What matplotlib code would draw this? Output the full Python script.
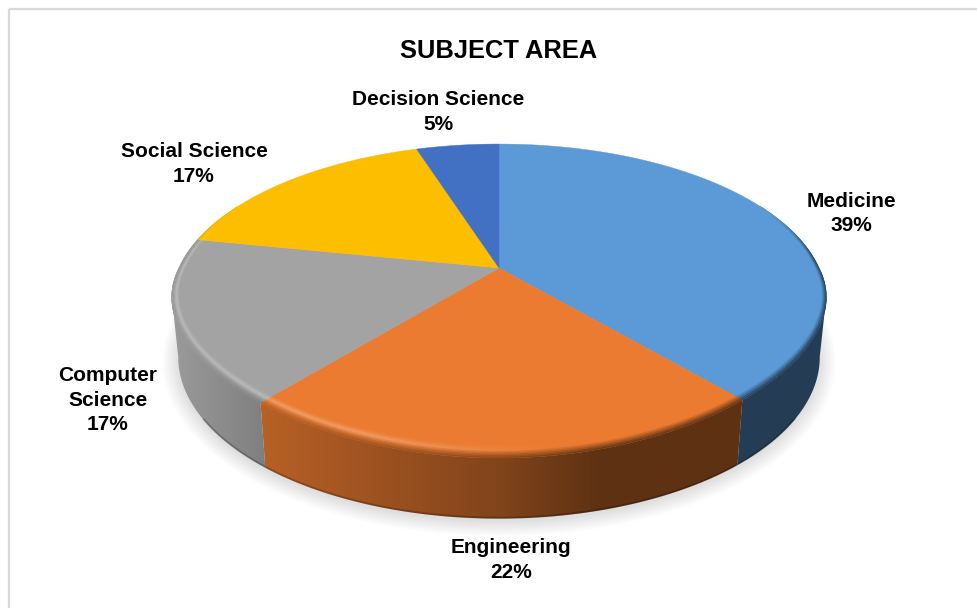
import numpy as np
import matplotlib
matplotlib.use("Agg")
import matplotlib.pyplot as plt
from matplotlib.collections import PolyCollection
from matplotlib.patches import Polygon, Rectangle

plt.rcParams['font.family'] = ['Liberation Sans', 'DejaVu Sans']

title = "SUBJECT AREA"
categories = ["Medicine", "Engineering", "Computer\nScience", "Social Science", "Decision Science"]
values = [39, 21.7, 17.45, 16.85, 5]
colors = ["#5B9AD6", "#EB7B30", "#A3A3A3", "#FDBE00", "#4270C3"]
label_pos = [(851, 213.5), (511, 560), (108, 400), (194, 164), (438, 112)]

CX, CY = 499.0, 268.0
K, A, B, C = -0.21, 150.0, 320.0, -19.0
DEPTH, SX, SY = 55.0, 0.98, 1.03


def top(r, th):
    u, v = r * np.sin(th), -r * np.cos(th)
    w = 1 + K * v
    vr = -np.cos(th)
    return CX + B * u / w, CY + A * v / w + C * r * np.maximum(vr, 0) * (1 - vr ** 2)


def bottom(th):
    u, v = np.sin(th), -np.cos(th)
    w = 1 + K * v
    return CX + SX * B * u / w, CY + DEPTH + SY * A * v / w


def side_factor(x):
    return np.interp(x, [172, 265, 500, 600, 830], [0.95, 0.78, 0.55, 0.40, 0.40])


def rgb(h):
    return np.array(matplotlib.colors.to_rgb(h))


fig = plt.figure(figsize=(9.77, 6.08), dpi=100, facecolor="white")
ax = fig.add_axes([0, 0, 1, 1])
ax.axis("off")

ax.add_patch(Rectangle((8.5, 8.5), 1100, 800, fill=False, ec="#D9D9D9", lw=1.6, zorder=1))

# soft shadow under the pie
full = np.linspace(0, 2 * np.pi, 361)
bx, by = bottom(full)
for grow in np.linspace(15, 0, 16):
    sx = CX + (bx - CX) * (1 + grow / 300)
    sy = CY + DEPTH + 3 + (by - CY - DEPTH) * (1 + grow / 200)
    ax.fill(sx, sy, color="black", alpha=0.008, lw=0, zorder=2)

edges = np.cumsum([0] + values) / sum(values) * 2 * np.pi
xgrid = np.arange(977) + 0.5
fgrid = side_factor(xgrid)[None, :, None]

# side walls (left / right silhouette limits where the rim turns away)
LIM_R, LIM_L = np.deg2rad(102), np.deg2rad(258)
for i, col in enumerate(colors):
    t0, t1 = max(edges[i], LIM_R), min(edges[i + 1], LIM_L)
    if t0 >= t1:
        continue
    th = np.linspace(t0, t1, 150)
    tx, ty = top(1.0, th)
    dx, dy = bottom(th)
    poly = Polygon(np.r_[np.c_[tx, ty], np.c_[dx, dy][::-1]], closed=True, fc="none", ec="none",
                   transform=ax.transData)
    ax.add_patch(poly)
    img = np.clip(rgb(col)[None, None, :] * fgrid, 0, 1)
    im = ax.imshow(img, extent=(0, 977, 608, 0), aspect="auto", zorder=3, interpolation="bilinear")
    im.set_clip_path(poly)
    front = (-np.cos(th) > 0.55)
    ax.plot(dx[front], dy[front] - 0.8, color="black", alpha=0.22, lw=1.5, zorder=3.5,
            solid_capstyle="butt")

# top faces
for i, col in enumerate(colors):
    th = np.linspace(edges[i], edges[i + 1], 200)
    x, y = top(1.0, th)
    ax.fill(np.r_[CX, x], np.r_[CY, y], color=col, lw=0.3, zorder=4)

# bevel along the rim
quads, qcols = [], []
ts = np.linspace(0, 1, 13)
for i, col in enumerate(colors):
    base = rgb(col)
    ths = np.linspace(edges[i], edges[i + 1], max(30, int(values[i] * 9)))
    for a, b in zip(ths[:-1], ths[1:]):
        mid = 0.5 * (a + b)
        v = -np.cos(mid)
        W = np.clip((v + 0.45) / 0.4, 0, 1)
        W = W * W * (3 - 2 * W)
        if W <= 0:
            continue
        width = 0.03 + 0.045 * max(v, 0) ** 2
        xm, _ = top(1.0, mid)
        amp = 0.24 * np.clip((560 - xm) / 200, 0, 1)
        f = side_factor(xm)
        for t0, t1 in zip(ts[:-1], ts[1:]):
            r0, r1 = 1 - width * t0, 1 - width * t1
            p = [top(r0, a), top(r0, b), top(r1, b), top(r1, a)]
            t = 0.5 * (t0 + t1)
            c = base + (1 - base) * amp * np.exp(-((t - 0.45) / 0.2) ** 2)
            m = np.clip(1 - t / 0.45, 0, 1)
            c = (1 - m) * c + m * base * f
            c = (1 - W) * base + W * c
            quads.append(p)
            qcols.append(np.clip(c, 0, 1))
ax.add_collection(PolyCollection(quads, facecolors=qcols, edgecolors=qcols, linewidths=0.4, zorder=5))

ax.text(499, 50.5, title, ha="center", va="center", fontsize=18.4, fontweight="bold", color="black", zorder=6)
for cat, val, (lx, ly) in zip(categories, values, label_pos):
    ax.text(lx, ly, f"{cat}\n{val:.0f}%", ha="center", va="center", fontsize=15, fontweight="bold",
            color="black", linespacing=1.38, zorder=6)

ax.set_xlim(0, 977)
ax.set_ylim(608, 0)
fig.savefig("out.png", dpi=100, facecolor="white")
